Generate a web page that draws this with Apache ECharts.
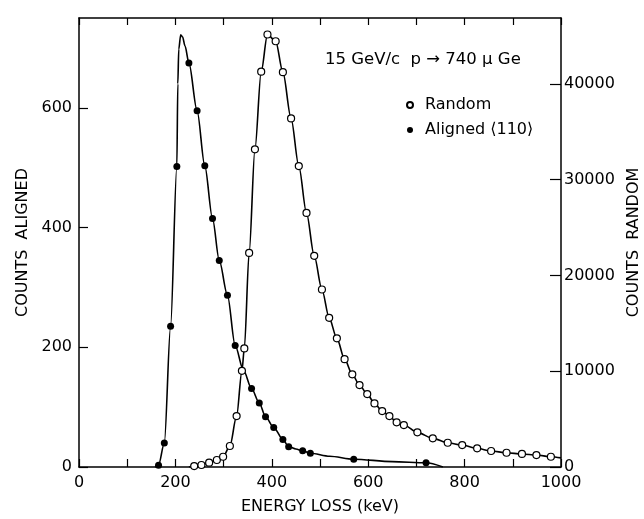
<!DOCTYPE html>
<html>
<head>
<meta charset="utf-8">
<script src="https://cdn.jsdelivr.net/npm/echarts@6/dist/echarts.min.js"></script>
<style>
html,body{margin:0;padding:0;background:#fff;overflow:hidden;}
#chart{width:644px;height:519px;}
</style>
</head>
<body>
<div id="chart"></div>
<script>
// Aligned <110> data points (filled dots), left axis
var alignedDotE = [165, 177, 190, 203, 228, 245, 261, 277, 291, 308, 324, 358, 374, 387, 404, 423, 435, 464, 480, 570, 720];
var alignedDotC = [3, 40, 235, 502, 675, 595, 503, 415, 345, 287, 203, 131, 107, 84, 66, 46, 34, 27, 23, 13, 7];
// Aligned fitted curve
var alignedCurveE = [158, 165, 177, 190, 203, 205, 207, 211, 215, 220, 228, 245, 261, 277, 291, 308, 324, 341, 358, 374, 387, 404, 423, 435, 450, 464, 480, 520, 570, 650, 720, 755];
var alignedCurveC = [0, 3, 40, 235, 502, 640, 698, 722, 718, 703, 675, 595, 503, 415, 345, 287, 203, 162, 131, 107, 84, 66, 46, 34, 30, 27, 23, 18, 13, 9, 7, 0];
// Random data points (open circles), right axis
var randomDotE = [239, 254, 270, 286, 299, 313, 327, 338, 343, 353, 365, 378, 391, 408, 423, 440, 456, 472, 488, 504, 519, 535, 551, 567, 582, 598, 613, 629, 644, 659, 674, 702, 734, 765, 795, 826, 855, 887, 919, 949, 979];
var randomDotC = [100, 210, 450, 730, 1070, 2190, 5320, 10040, 12380, 22350, 33160, 41270, 45150, 44450, 41220, 36390, 31420, 26520, 22050, 18530, 15570, 13430, 11260, 9670, 8550, 7610, 6640, 5840, 5320, 4660, 4380, 3620, 2990, 2530, 2290, 1950, 1670, 1490, 1360, 1250, 1070];
// Random curve end points beyond the dots
var randomCurveStartE = [228];
var randomCurveStartC = [0];
var randomCurveEndE = [1000];
var randomCurveEndC = [950];

var xTicks = [0, 200, 400, 600, 800, 1000];
var leftTicks = [0, 200, 400, 600];
var rightTicks = [0, 10000, 20000, 30000, 40000];

var titleText = '15 GeV/c  p \u2192 740 \u03bc Ge';
var seriesNames = ['Random', 'Aligned \u27e8110\u27e9'];
var xName = 'ENERGY LOSS (keV)';
var leftName = 'COUNTS  ALIGNED';
var rightName = 'COUNTS  RANDOM';

function zip(a, b) { var r = []; for (var i = 0; i < a.length; i++) r.push([a[i], b[i]]); return r; }
function plain(v) { return String(v); }

var randomCurveE = randomCurveStartE.concat(randomDotE, randomCurveEndE);
var randomCurveC = randomCurveStartC.concat(randomDotC, randomCurveEndC);

var FONT = 'DejaVu Sans';
var axisLineStyle = { color: '#000', width: 1.5 };
var tickStyle = { color: '#000', width: 1.2 };

var chart = echarts.init(document.getElementById('chart'), null, { renderer: 'canvas' });
var option = {
  animation: false,
  backgroundColor: '#fff',
  textStyle: { fontFamily: FONT, color: '#000' },
  title: {
    text: titleText, left: 320, top: 46,
    textStyle: { fontFamily: FONT, fontSize: 16.5, fontWeight: 'normal', color: '#000' }
  },
  legend: {
    orient: 'vertical', left: 401, top: 92,
    itemWidth: 20, itemHeight: 6, itemGap: 9,
    selectedMode: false,
    data: seriesNames,
    textStyle: { fontFamily: FONT, fontSize: 16, color: '#000' }
  },
  grid: { left: 79, right: 83, top: 18, bottom: 52, containLabel: false, outerBoundsMode: 'none' },
  xAxis: [{
    type: 'value', min: xTicks[0], max: xTicks[xTicks.length - 1], interval: xTicks[1] - xTicks[0],
    position: 'bottom',
    axisLine: { onZero: false, lineStyle: axisLineStyle },
    axisTick: { inside: true, length: 8, lineStyle: tickStyle },
    minorTick: { show: true, splitNumber: 2, length: 8, lineStyle: tickStyle },
    splitLine: { show: false }, minorSplitLine: { show: false },
    axisLabel: { formatter: plain, fontFamily: FONT, fontSize: 16, color: '#000', margin: 8 },
    name: xName, nameLocation: 'middle', nameGap: 32,
    nameTextStyle: { fontFamily: FONT, fontSize: 16, color: '#000' }
  }, {
    type: 'value', min: 0, max: 1000, interval: 100,
    position: 'top',
    axisLine: { onZero: false, lineStyle: axisLineStyle },
    axisTick: { inside: true, length: 7, lineStyle: tickStyle },
    axisLabel: { show: false },
    splitLine: { show: false }
  }],
  yAxis: [{
    type: 'value', min: 0, max: 750, interval: leftTicks[1] - leftTicks[0],
    position: 'left',
    axisLine: { show: true, onZero: false, lineStyle: axisLineStyle },
    axisTick: { show: true, inside: true, length: 9, lineStyle: tickStyle },
    splitLine: { show: false },
    axisLabel: { formatter: plain, showMaxLabel: false, fontFamily: FONT, fontSize: 16, color: '#000', margin: 7 },
    name: leftName, nameLocation: 'middle', nameGap: 48, nameRotate: 90,
    nameTextStyle: { fontFamily: FONT, fontSize: 16, color: '#000' }
  }, {
    type: 'value', min: 0, max: 46875, interval: rightTicks[1] - rightTicks[0],
    position: 'right',
    axisLine: { show: true, onZero: false, lineStyle: axisLineStyle },
    axisTick: { show: true, inside: true, length: 11, lineStyle: tickStyle },
    splitLine: { show: false },
    axisLabel: { formatter: plain, showMaxLabel: false, fontFamily: FONT, fontSize: 16, color: '#000', margin: 3 },
    name: rightName, nameLocation: 'middle', nameGap: 57, nameRotate: 90,
    nameTextStyle: { fontFamily: FONT, fontSize: 16, color: '#000' }
  }],
  series: [{
    type: 'line', xAxisIndex: 0, yAxisIndex: 0,
    data: zip(alignedCurveE, alignedCurveC),
    smooth: 0.3, smoothMonotone: 'x', showSymbol: false, symbol: 'none',
    lineStyle: { color: '#000', width: 1.6 }, z: 2, silent: true
  }, {
    type: 'line', xAxisIndex: 0, yAxisIndex: 1,
    data: zip(randomCurveE, randomCurveC),
    smooth: 0.3, smoothMonotone: 'x', showSymbol: false, symbol: 'none',
    lineStyle: { color: '#000', width: 1.6 }, z: 2, silent: true
  }, {
    name: seriesNames[1], type: 'scatter', xAxisIndex: 0, yAxisIndex: 0,
    data: zip(alignedDotE, alignedDotC),
    symbol: 'circle', symbolSize: 7,
    itemStyle: { color: '#000', opacity: 1 }, z: 5
  }, {
    name: seriesNames[0], type: 'scatter', xAxisIndex: 0, yAxisIndex: 1,
    data: zip(randomDotE, randomDotC),
    symbol: 'circle', symbolSize: 7,
    itemStyle: { color: '#fff', borderColor: '#000', borderWidth: 1.2, opacity: 1 }, z: 5
  }]
};
chart.setOption(option);
</script>
</body>
</html>
